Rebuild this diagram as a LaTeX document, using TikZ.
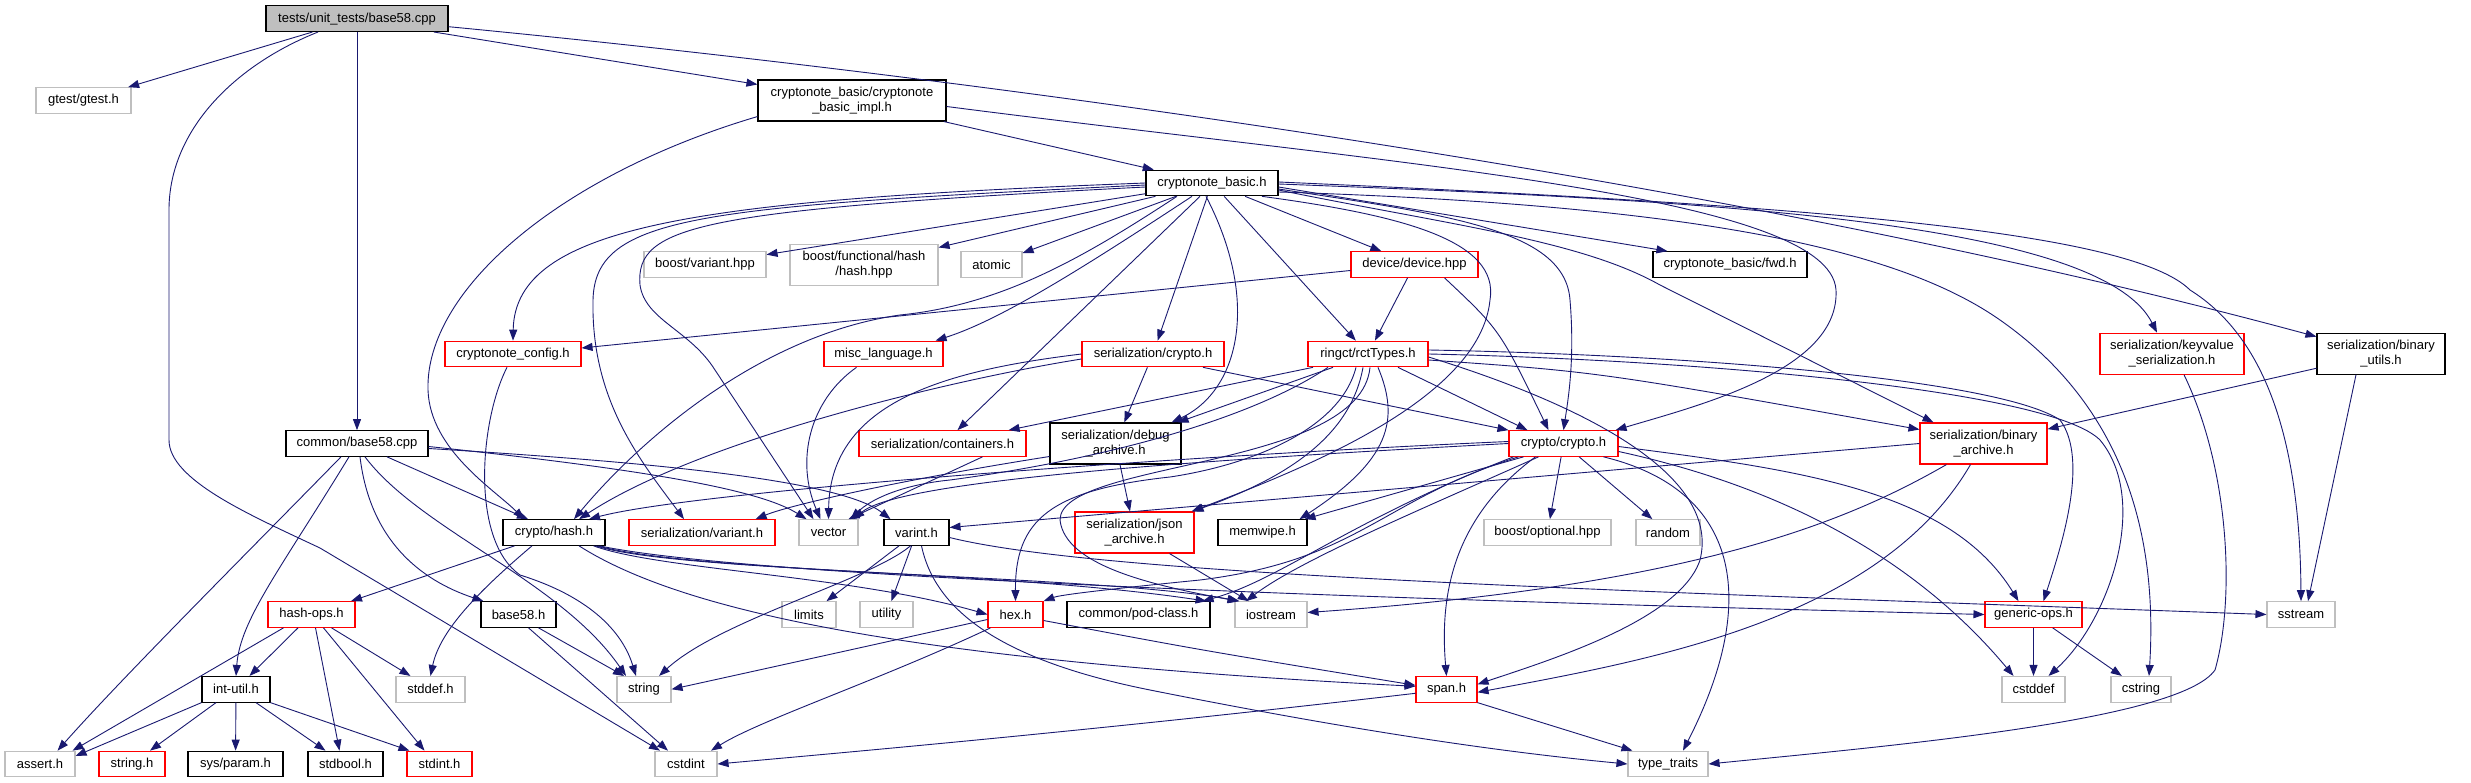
\documentclass[tikz,border=0pt]{standalone}
\usepackage{fontspec}
\usetikzlibrary{arrows.meta}
\newfontfamily\dgfam{Liberation Sans}
\newcommand\dgfont{\dgfam\fontsize{13pt}{15pt}\selectfont}
\definecolor{edgec}{HTML}{191970}
\definecolor{grayb}{HTML}{BFBFBF}
\definecolor{redb}{HTML}{FF0000}
\definecolor{rootfill}{HTML}{BFBFBF}
\tikzset{
 nb/.style={draw, line width=1.1pt, inner sep=0pt, minimum height=25.6pt, font=\dgfont, align=center},
 gb/.style={nb, draw=grayb},
 rb/.style={nb, draw=redb},
 kb/.style={nb, draw=black},
 tall/.style={minimum height=41pt},
 dep/.style={draw=edgec, line width=0.9pt, -{Triangle[length=11pt,width=8pt]}}
}
\begin{document}
\begin{tikzpicture}[x=1pt,y=-1pt]
\useasboundingbox[fill=white] (0,0) rectangle (2471,783);
% nodes
\node[kb, fill=rootfill, minimum width=182pt] (root) at (357,18.7) {tests/unit\_tests/base58.cpp};
\node[gb, minimum width=95pt] (gtest) at (83.5,100.5) {gtest/gtest.h};
\node[kb, tall, minimum width=188pt] (impl) at (852,100.5) {cryptonote\_basic/cryptonote\\\_basic\_impl.h};
\node[kb, minimum width=132pt] (cb) at (1212,183) {cryptonote\_basic.h};
\node[gb, minimum width=122pt] (bvariant) at (705,264.5) {boost/variant.hpp};
\node[gb, tall, minimum width=148pt] (bfunc) at (864,265) {boost/functional/hash\\/hash.hpp};
\node[gb, minimum width=61pt] (atomic) at (991.5,264.5) {atomic};
\node[rb, minimum width=127pt] (device) at (1414.5,264.5) {device/device.hpp};
\node[kb, minimum width=154pt] (fwd) at (1730,264.5) {cryptonote\_basic/fwd.h};
\node[rb, tall, minimum width=144pt] (keyvalue) at (2172,353.7) {serialization/keyvalue\\\_serialization.h};
\node[kb, tall, minimum width=128pt] (binutils) at (2381,353.7) {serialization/binary\\\_utils.h};
\node[rb, minimum width=136pt] (config) at (513,354) {cryptonote\_config.h};
\node[rb, minimum width=119pt] (misc) at (883.5,354) {misc\_language.h};
\node[rb, minimum width=142pt] (scrypto) at (1153,354) {serialization/crypto.h};
\node[rb, minimum width=120pt] (rct) at (1368,354) {ringct/rctTypes.h};
\node[kb, minimum width=142pt] (b58cpp) at (357,443.5) {common/base58.cpp};
\node[rb, minimum width=167pt] (containers) at (942.5,443.5) {serialization/containers.h};
\node[kb, tall, minimum width=131pt] (debug) at (1115.5,443.5) {serialization/debug\\\_archive.h};
\node[rb, minimum width=109pt] (crypto) at (1563.5,443.5) {crypto/crypto.h};
\node[rb, tall, minimum width=127pt] (binarch) at (1983.5,443.5) {serialization/binary\\\_archive.h};
\node[kb, minimum width=102pt] (hash) at (554,532.5) {crypto/hash.h};
\node[rb, minimum width=146pt] (svariant) at (702,532.5) {serialization/variant.h};
\node[gb, minimum width=59pt] (vector) at (828.5,532.5) {vector};
\node[kb, minimum width=65pt] (varint) at (916.5,532.5) {varint.h};
\node[rb, tall, minimum width=119pt] (json) at (1134.5,532.5) {serialization/json\\\_archive.h};
\node[kb, minimum width=89pt] (memwipe) at (1262.5,532.5) {memwipe.h};
\node[gb, minimum width=127pt] (boptional) at (1547.5,532.5) {boost/optional.hpp};
\node[gb, minimum width=64pt] (random) at (1668,532.5) {random};
\node[rb, minimum width=87pt] (hashops) at (311.5,614.5) {hash-ops.h};
\node[kb, minimum width=75pt] (base58h) at (518.5,614.5) {base58.h};
\node[gb, minimum width=54pt] (limits) at (809,614.5) {limits};
\node[gb, minimum width=53pt] (utility) at (886.5,614.5) {utility};
\node[rb, minimum width=55pt] (hex) at (1015.5,614.5) {hex.h};
\node[kb, minimum width=143pt] (pod) at (1138.5,614.5) {common/pod-class.h};
\node[gb, minimum width=72pt] (iostream) at (1271,614.5) {iostream};
\node[rb, minimum width=97pt] (generic) at (2033.5,614.5) {generic-ops.h};
\node[gb, minimum width=68pt] (sstream) at (2301,614.5) {sstream};
\node[kb, minimum width=68pt] (intutil) at (236,689.3) {int-util.h};
\node[gb, minimum width=69pt] (stddef) at (430.5,689.3) {stddef.h};
\node[gb, minimum width=54pt] (string) at (644,689.3) {string};
\node[rb, minimum width=61pt] (span) at (1446.5,689.3) {span.h};
\node[gb, minimum width=63pt] (cstddef) at (2033.5,689.3) {cstddef};
\node[gb, minimum width=60pt] (cstring) at (2141,689.3) {cstring};
\node[gb, minimum width=70pt] (assert) at (40,764) {assert.h};
\node[rb, minimum width=66pt] (stringh) at (132,764) {string.h};
\node[kb, minimum width=95pt] (sysparam) at (235.5,764) {sys/param.h};
\node[kb, minimum width=75pt] (stdbool) at (345.5,764) {stdbool.h};
\node[rb, minimum width=65pt] (stdint) at (439.5,764) {stdint.h};
\node[gb, minimum width=62pt] (cstdint) at (686,764) {cstdint};
\node[gb, minimum width=80pt] (typetraits) at (1668,764) {type\_traits};
% root
\draw[dep] (root) -- (gtest);
\draw[dep] ([xshift=-39pt]root.south) .. controls (235,65) and (169,130) .. (169,210) -- (169,440) .. controls (169,480) and (250,515) .. (320,548) -- ([xshift=-26pt]cstdint.north);
\draw[dep] (root) -- (b58cpp);
\draw[dep] ([xshift=77pt]root.south) -- ([yshift=-5pt]impl.north west);
\draw[dep] ([yshift=-8pt]root.east) .. controls (900,70) and (1700,170) .. ([yshift=-4pt]binutils.north west);
% impl
\draw[dep] (impl) -- (cb);
\draw[dep] ([yshift=5pt]impl.south west) .. controls (560,175) and (425,290) .. (428,390) .. controls (430,450) and (495,490) .. ([xshift=-30pt]hash.north);
\draw[dep] ([yshift=-6pt]impl.east) .. controls (1400,165) and (1830,195) .. (1836,290) .. controls (1840,370) and (1700,405) .. ([xshift=-3pt]crypto.north east);
% cb
\draw[dep] (cb.west) .. controls (700,200) and (515,225) .. (config.north);
\draw[dep] ([yshift=-2pt]cb.west) .. controls (700,207) and (595,215) .. (593,300) .. controls (591,400) and (640,460) .. ([xshift=-18pt]svariant.north);
\draw[dep] ([yshift=-4pt]cb.west) .. controls (700,210) and (635,225) .. (640,285) .. controls (645,320) and (690,330) .. (715,370) -- ([xshift=-15pt]vector.north);
\draw[dep] (cb) -- (bvariant);
\draw[dep] (cb) -- (bfunc);
\draw[dep] (cb) -- (atomic);
\draw[dep] ([xshift=-35pt]cb.south) .. controls (1080,260) and (1000,305) .. (900,315) .. controls (760,335) and (640,440) .. ([xshift=20pt]hash.north);
\draw[dep] ([xshift=-20pt]cb.south) .. controls (1080,270) and (1000,320) .. ([xshift=-8pt]misc.north east);
\draw[dep] ([xshift=-12pt]cb.south) -- ([xshift=15pt]containers.north);
\draw[dep] (cb) -- (scrypto);
\draw[dep] ([xshift=-6pt]cb.south) .. controls (1260,300) and (1240,390) .. ([xshift=-10pt]debug.north east);
\draw[dep] (cb) -- (rct);
\draw[dep] (cb) -- (device);
\draw[dep] ([yshift=-4pt]cb.east) -- ([xshift=15pt]fwd.north west);
\draw[dep] ([yshift=-6pt]cb.east) .. controls (1450,215) and (1565,230) .. (1570,300) .. controls (1575,360) and (1568,400) .. (crypto.north);
\draw[dep] ([yshift=-7pt]cb.east) .. controls (1450,225) and (1580,240) .. (1660,285) -- ([xshift=-50pt]binarch.north);
\draw[dep] ([yshift=-1pt]cb.east) .. controls (1700,200) and (2100,220) .. ([xshift=-15pt]keyvalue.north);
\draw[dep] ([yshift=1pt]cb.east) .. controls (1800,205) and (2130,230) .. (2190,290) .. controls (2270,340) and (2300,450) .. (sstream.north);
\draw[dep] ([yshift=-9pt]cb.east) .. controls (1700,205) and (1900,250) .. (2000,320) .. controls (2100,390) and (2160,500) .. ([xshift=8pt]cstring.north);
\draw[dep] ([xshift=50pt]cb.south) .. controls (1400,215) and (1500,240) .. (1490,300) .. controls (1480,400) and (1300,470) .. ([xshift=-3pt]json.north east);
% device
\draw[dep] ([yshift=-6pt]device.west) -- ([yshift=6pt]config.east);
\draw[dep] (device) -- (rct);
\draw[dep] ([xshift=30pt]device.south) .. controls (1500,330) .. ([xshift=-15pt]crypto.north);
% scrypto
\draw[dep] (scrypto) -- (debug);
\draw[dep] ([xshift=50pt]scrypto.south) -- (crypto.north west);
\draw[dep] (scrypto.west) .. controls (950,370) and (830,400) .. (vector.north);
\draw[dep] ([yshift=-5pt]scrypto.west) .. controls (950,380) and (700,440) .. ([xshift=25pt]hash.north);
% misc
\draw[dep] ([xshift=-27pt]misc.south) .. controls (810,400) and (795,460) .. ([xshift=-8pt]vector.north);
% config
\draw[dep] ([xshift=-6pt]config.south) .. controls (480,420) and (470,540) .. (520,575) .. controls (600,600) and (625,640) .. ([xshift=-8pt]string.north);
% rct
\draw[dep] ([xshift=-55pt]rct.south) -- ([xshift=-18pt]containers.north east);
\draw[dep] ([xshift=-35pt]rct.south) -- ([xshift=-4pt]debug.north east);
\draw[dep] ([xshift=-5pt]rct.south) .. controls (1350,440) and (1280,480) .. ([xshift=-2pt]json.north east);
\draw[dep] ([xshift=30pt]rct.south) -- ([xshift=-36pt]crypto.north);
\draw[dep] ([xshift=10pt]rct.south) .. controls (1400,420) and (1390,460) .. ([xshift=-8pt]memwipe.north east);
\draw[dep] ([xshift=-40pt]rct.south) .. controls (1250,420) and (1100,460) .. (950,480) .. controls (900,485) and (870,500) .. ([xshift=22pt]vector.north);
\draw[dep] ([xshift=-12pt]rct.south) .. controls (1340,430) and (1250,465) .. (1170,477) .. controls (1050,490) and (1015,520) .. (hex.north);
\draw[dep] ([xshift=2pt]rct.south) .. controls (1360,470) and (1060,460) .. (1060,520) .. controls (1065,565) and (1150,585) .. ([xshift=4pt]iostream.north west);
\draw[dep] ([yshift=-3pt]rct.east) .. controls (1600,410) and (1720,480) .. (1700,560) .. controls (1680,620) and (1550,660) .. ([yshift=5pt]span.east);
\draw[dep] ([yshift=4pt]rct.east) .. controls (1700,355) and (2000,380) .. (2060,420) .. controls (2090,460) and (2060,550) .. ([xshift=10pt]generic.north);
\draw[dep] (rct.east) .. controls (1700,360) and (2050,390) .. (2100,440) .. controls (2150,500) and (2110,620) .. ([xshift=15pt]cstddef.north);
\draw[dep] ([yshift=-6pt]rct.east) .. controls (1600,372) .. ([yshift=14pt]binarch.west);
% crypto
\draw[dep] (crypto) -- (boptional);
\draw[dep] (crypto) -- (random);
\draw[dep] ([xshift=-28pt]crypto.south) .. controls (1450,520) and (1440,600) .. (span.north);
\draw[dep] ([xshift=-40pt]crypto.south) -- ([xshift=-3pt]memwipe.north east);
\draw[dep] ([xshift=-25pt]crypto.south) .. controls (1420,510) and (1300,560) .. ([xshift=-25pt]iostream.north);
\draw[dep] ([xshift=-45pt]crypto.south) .. controls (1380,500) and (1360,560) .. (1200,580) .. controls (1100,590) and (1060,595) .. (hex.north east);
\draw[dep] ([xshift=-50pt]crypto.south) .. controls (1350,520) and (1280,580) .. ([xshift=-8pt]pod.north east);
\draw[dep] (crypto.west) .. controls (1200,460) and (900,480) .. ([xshift=25pt]vector.north);
\draw[dep] ([yshift=2pt]crypto.west) .. controls (1200,455) and (700,490) .. ([xshift=35pt]hash.north);
\draw[dep] ([yshift=-3pt]crypto.east) .. controls (1800,470) and (1950,490) .. ([xshift=-15pt]generic.north);
\draw[dep] ([yshift=-8pt]crypto.east) .. controls (1750,480) and (1900,540) .. ([xshift=-20pt]cstddef.north);
\draw[dep] ([xshift=40pt]crypto.south) .. controls (1740,490) and (1760,600) .. ([xshift=15pt]typetraits.north);
% binarch
\draw[dep] (binarch.west) -- ([yshift=5pt]varint.east);
\draw[dep] ([xshift=-37pt]binarch.south) .. controls (1850,520) and (1700,585) .. ([yshift=2pt]iostream.east);
\draw[dep] ([xshift=-13pt]binarch.south) .. controls (1880,620) and (1650,660) .. ([yshift=-3pt]span.east);
% binutils
\draw[dep] (binutils) -- (binarch);
\draw[dep] ([xshift=-25pt]binutils.south) -- ([xshift=7pt]sstream.north);
% keyvalue
\draw[dep] ([xshift=12pt]keyvalue.south) .. controls (2230,470) and (2235,600) .. (2215,670) .. controls (2180,720) and (1900,745) .. (typetraits.east);
% debug
\draw[dep] (debug) -- (json);
\draw[dep] ([yshift=-13pt]debug.west) .. controls (900,480) and (790,505) .. ([xshift=-20pt]svariant.north east);
% containers
\draw[dep] ([xshift=40pt]containers.south) -- ([xshift=20pt]vector.north);
% json
\draw[dep] (json) -- (iostream);
% b58cpp
\draw[dep] ([xshift=-16pt]b58cpp.south) .. controls (250,550) and (120,680) .. ([xshift=-18pt]assert.north east);
\draw[dep] ([xshift=-8pt]b58cpp.south) .. controls (280,570) and (240,620) .. (intutil.north);
\draw[dep] ([xshift=3pt]b58cpp.south) .. controls (370,540) and (420,580) .. ([xshift=3pt]base58h.north west);
\draw[dep] ([xshift=8pt]b58cpp.south) .. controls (420,530) and (560,580) .. ([xshift=-18pt]string.north);
\draw[dep] ([xshift=30pt]b58cpp.south) -- ([xshift=-26pt]hash.north);
\draw[dep] ([yshift=-3pt]b58cpp.east) .. controls (650,470) and (760,490) .. ([xshift=-22pt]vector.north);
\draw[dep] ([yshift=-5pt]b58cpp.east) .. controls (650,462) and (840,480) .. ([xshift=-26pt]varint.north);
% hash
\draw[dep] (hash) -- (hashops);
\draw[dep] ([xshift=-22pt]hash.south) .. controls (480,590) and (440,630) .. (stddef.north);
\draw[dep] ([xshift=25pt]hash.south) .. controls (680,610) and (900,660) .. ([yshift=3pt]span.west);
\draw[dep] ([xshift=-12pt]hash.south east) .. controls (660,570) and (850,575) .. (hex.west);
\draw[dep] ([xshift=-10pt]hash.south east) .. controls (680,572) and (1000,570) .. ([xshift=-4pt]pod.north east);
\draw[dep] ([xshift=-8pt]hash.south east) .. controls (700,574) and (1100,575) .. ([xshift=5pt]iostream.north west);
\draw[dep] ([xshift=-6pt]hash.south east) .. controls (750,578) and (1400,600) .. (generic.west);
% hashops
\draw[dep] ([xshift=-28pt]hashops.south) -- ([xshift=-3pt]assert.north east);
\draw[dep] (hashops) -- (intutil);
\draw[dep] ([xshift=4pt]hashops.south) -- ([xshift=-6pt]stdbool.north);
\draw[dep] ([xshift=12pt]hashops.south) -- ([xshift=-15pt]stdint.north);
\draw[dep] ([xshift=20pt]hashops.south) -- ([xshift=-20pt]stddef.north);
% intutil
\draw[dep] (intutil.south west) -- ([yshift=8pt]assert.east);
\draw[dep] ([xshift=-20pt]intutil.south) -- ([xshift=18pt]stringh.north);
\draw[dep] (intutil) -- (sysparam);
\draw[dep] ([xshift=20pt]intutil.south) -- ([xshift=-20pt]stdbool.north);
\draw[dep] (intutil.south east) -- ([xshift=3pt]stdint.north west);
% base58h
\draw[dep] ([xshift=20pt]base58h.south) -- ([xshift=-20pt]string.north);
\draw[dep] ([xshift=10pt]base58h.south) -- ([xshift=-18pt]cstdint.north);
% varint
\draw[dep] (varint) -- (limits);
\draw[dep] (varint) -- (utility);
\draw[dep] ([xshift=-6pt]varint.south) .. controls (870,580) and (720,620) .. ([xshift=15pt]string.north);
\draw[dep] ([xshift=5pt]varint.south) .. controls (935,610) and (1000,660) .. (1150,690) .. controls (1350,730) and (1500,752) .. (typetraits.west);
\draw[dep] ([yshift=-5pt]varint.east) .. controls (1100,575) and (1600,590) .. (sstream.west);
% hex
\draw[dep] ([yshift=-5pt]hex.west) .. controls (850,650) .. (string.east);
\draw[dep] ([xshift=-25pt]hex.south) .. controls (880,680) and (760,720) .. ([xshift=25pt]cstdint.north);
\draw[dep] ([yshift=-6pt]hex.east) .. controls (1200,650) .. ([yshift=4pt]span.west);
% span
\draw[dep] ([yshift=-4pt]span.west) .. controls (1100,730) and (850,752) .. (cstdint.east);
\draw[dep] (span.south east) -- ([xshift=5pt]typetraits.north west);
% generic
\draw[dep] (generic) -- (cstddef);
\draw[dep] (generic) -- (cstring);
\end{tikzpicture}
\end{document}
